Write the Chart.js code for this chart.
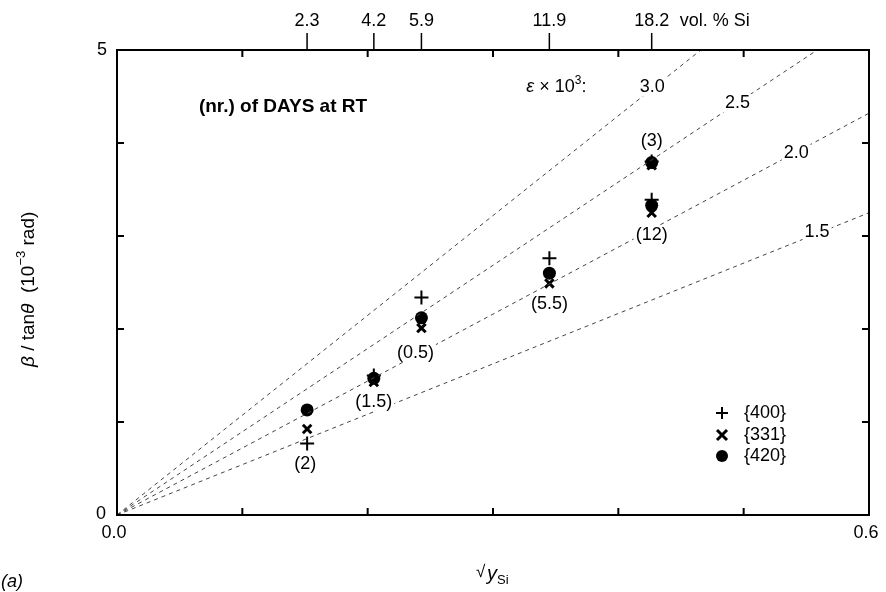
<!DOCTYPE html>
<html>
<head>
<meta charset="utf-8">
<script src="https://cdn.jsdelivr.net/npm/chart.js@4/dist/chart.umd.min.js"></script>
<style>
  body { margin: 0; background: #fff; }
  #wrap { width: 886px; height: 592px; }
</style>
</head>
<body>
<div id="wrap"><canvas id="chart" width="886" height="592"></canvas></div>
<script>
// sqrt(y_Si) of each sample and the days spent at RT
const xSqrtY = [0.1517, 0.2049, 0.2429, 0.345, 0.4266, 0.4266]
const dayLabels = ['(2)', '(1.5)', '(0.5)', '(5.5)', '(3)', '(12)']

// beta / tan(theta) in 10^-3 rad, per reflection
const y400 = [0.77, 1.50, 2.34, 2.76, 3.80, 3.39]
const y331 = [0.925, 1.43, 2.01, 2.49, 3.76, 3.25]
const y420 = [1.13, 1.47, 2.12, 2.60, 3.79, 3.33]

// constant strain lines: epsilon x 10^3 and their value at sqrt(y) = 0.6
const epsValues = ['3.0', '2.5', '2.0', '1.5']
const epsEndY = [6.44, 5.37, 4.32, 3.25]

// top axis, vol. % Si
const volTicks = [2.3, 4.2, 5.9, 11.9, 18.2]

const FONT = '"Liberation Sans", Arial, sans-serif'

const lineSets = epsValues.map((e, i) => ({
  type: 'line',
  label: 'eps ' + e,
  data: [{ x: 0, y: 0 }, { x: 0.6, y: epsEndY[i] }],
  borderColor: '#444',
  borderWidth: 1,
  borderDash: [4, 4],
  pointRadius: 0,
  fill: false
}))

const pts = ys => ys.map((y, i) => ({ x: xSqrtY[i], y: y }))

// centred text on a small white patch, so the dashed lines break around it
function maskedText(ctx, txt, x, y) {
  const w = ctx.measureText(txt).width
  ctx.save()
  ctx.fillStyle = '#fff'
  ctx.fillRect(x - w / 2 - 2, y - 9, w + 4, 18)
  ctx.restore()
  ctx.fillText(txt, x, y)
}

const frame = {
  id: 'frame',
  afterDraw(chart) {
    const ctx = chart.ctx
    const a = chart.chartArea
    const xs = chart.scales.x
    const ys = chart.scales.y
    ctx.save()
    ctx.strokeStyle = '#000'
    ctx.fillStyle = '#000'

    // box
    ctx.lineWidth = 2
    ctx.strokeRect(a.left, a.top, a.right - a.left, a.bottom - a.top)

    // inward ticks
    ctx.beginPath()
    for (let v = 0.1; v < 0.55; v += 0.1) {
      const px = xs.getPixelForValue(v)
      ctx.moveTo(px, a.bottom); ctx.lineTo(px, a.bottom - 7)
      ctx.moveTo(px, a.top); ctx.lineTo(px, a.top + 7)
    }
    for (let v = 1; v <= 4; v++) {
      const py = ys.getPixelForValue(v)
      ctx.moveTo(a.left, py); ctx.lineTo(a.left + 7, py)
      ctx.moveTo(a.right, py); ctx.lineTo(a.right - 7, py)
    }
    ctx.stroke()

    // top vol.% ticks, outward
    ctx.lineWidth = 1.5
    ctx.font = '18px ' + FONT
    ctx.textAlign = 'center'
    ctx.textBaseline = 'middle'
    ctx.beginPath()
    volTicks.forEach(v => {
      const px = xs.getPixelForValue(Math.sqrt(v / 100))
      ctx.moveTo(px, a.top); ctx.lineTo(px, a.top - 17)
    })
    ctx.stroke()
    volTicks.forEach(v => {
      const px = xs.getPixelForValue(Math.sqrt(v / 100))
      ctx.fillText(v.toFixed(1), px, a.top - 29)
    })
    ctx.textAlign = 'left'
    ctx.fillText('vol. % Si', xs.getPixelForValue(Math.sqrt(0.182)) + 28, a.top - 29)

    // axis end labels
    ctx.textAlign = 'center'
    ctx.fillText('5', a.left - 15, ys.getPixelForValue(5))
    ctx.fillText('0', a.left - 16, ys.getPixelForValue(0) - 1)
    ctx.fillText('0.0', xs.getPixelForValue(0) - 3, a.bottom + 18)
    ctx.fillText('0.6', xs.getPixelForValue(0.6) - 3, a.bottom + 18)

    // sample labels, days at RT
    const offs = [[-2, 21], [0, 20], [-6, 25], [0, 21], [0, -21], [0, 22]]
    dayLabels.forEach((t, i) => {
      const px = xs.getPixelForValue(xSqrtY[i])
      const lo = Math.min(y400[i], y331[i], y420[i])
      const hi = Math.max(y400[i], y331[i], y420[i])
      const ref = offs[i][1] < 0 ? hi : lo
      maskedText(ctx, t, px + offs[i][0], ys.getPixelForValue(ref) + offs[i][1])
    })

    // strain line labels
    const epsPos = [[0.427, 4.6], [0.495, 4.43], [0.542, 3.89], [0.5586, 3.04]]
    epsValues.forEach((e, i) => {
      maskedText(ctx, e, xs.getPixelForValue(epsPos[i][0]), ys.getPixelForValue(epsPos[i][1]))
    })
    const ex = xs.getPixelForValue(0.3266)
    const ey = ys.getPixelForValue(4.6)
    ctx.textAlign = 'left'
    let cx = ex
    const put = (txt, font, dy) => {
      ctx.font = font
      ctx.fillText(txt, cx, ey + (dy || 0))
      cx += ctx.measureText(txt).width
    }
    put('\u03b5', 'italic 18px ' + FONT)
    put(' \u00d7 10', '18px ' + FONT)
    put('3', '12px ' + FONT, -7)
    put(':', '18px ' + FONT)

    // caption
    ctx.textAlign = 'center'
    ctx.font = 'bold 19px ' + FONT
    ctx.fillText('(nr.) of DAYS at RT', 283, 107)

    // legend
    const lx = 722, ly = [413, 435, 456]
    const names = ['{400}', '{331}', '{420}']
    ctx.lineWidth = 2
    ctx.beginPath()
    ctx.moveTo(lx - 6, ly[0]); ctx.lineTo(lx + 6, ly[0])
    ctx.moveTo(lx, ly[0] - 6); ctx.lineTo(lx, ly[0] + 6)
    ctx.stroke()
    ctx.lineWidth = 3
    ctx.beginPath()
    ctx.moveTo(lx - 5, ly[1] - 5); ctx.lineTo(lx + 5, ly[1] + 5)
    ctx.moveTo(lx + 5, ly[1] - 5); ctx.lineTo(lx - 5, ly[1] + 5)
    ctx.stroke()
    ctx.beginPath()
    ctx.arc(lx, ly[2], 6, 0, Math.PI * 2)
    ctx.fill()
    ctx.font = '18px ' + FONT
    ctx.textAlign = 'left'
    names.forEach((n, i) => ctx.fillText(n, 744, ly[i]))

    // axis titles
    ctx.font = '17px ' + FONT
    ctx.fillText('\u221a', 476, 572)
    ctx.font = 'italic 20px ' + FONT
    ctx.fillText('y', 487, 574)
    ctx.font = '13px ' + FONT
    ctx.fillText('Si', 497, 580)
    ctx.font = 'italic 18px ' + FONT
    ctx.fillText('(a)', 1, 582)

    ctx.translate(29, 283)
    ctx.rotate(-Math.PI / 2)
    ctx.textAlign = 'left'
    let tx = -84
    const seg = (txt, font, dy) => {
      ctx.font = font
      ctx.fillText(txt, tx, dy || 0)
      tx += ctx.measureText(txt).width
    }
    seg('\u03b2', 'italic 19px ' + FONT)
    seg(' / tan', '19px ' + FONT)
    seg('\u03b8', 'italic 19px ' + FONT)
    seg('  (10', '19px ' + FONT)
    seg('\u22123', '13px ' + FONT, -8)
    seg(' rad)', '19px ' + FONT)
    ctx.restore()
  }
}

new Chart(document.getElementById('chart'), {
  type: 'scatter',
  data: {
    datasets: [
      ...lineSets,
      {
        label: '{400}', data: pts(y400), pointStyle: 'cross',
        pointRadius: 7, borderWidth: 2, borderColor: '#000', backgroundColor: '#000'
      },
      {
        label: '{331}', data: pts(y331), pointStyle: 'crossRot',
        pointRadius: 6, borderWidth: 3, borderColor: '#000', backgroundColor: '#000'
      },
      {
        label: '{420}', data: pts(y420), pointStyle: 'circle',
        pointRadius: 6.5, borderWidth: 0, borderColor: '#000', backgroundColor: '#000'
      }
    ]
  },
  options: {
    responsive: false,
    animation: false,
    layout: { padding: { left: 117, right: 17, top: 50, bottom: 77 } },
    plugins: { legend: { display: false }, tooltip: { enabled: false } },
    scales: {
      x: { type: 'linear', min: 0, max: 0.6, display: false },
      y: { type: 'linear', min: 0, max: 5, display: false }
    }
  },
  plugins: [frame]
})
</script>
</body>
</html>
